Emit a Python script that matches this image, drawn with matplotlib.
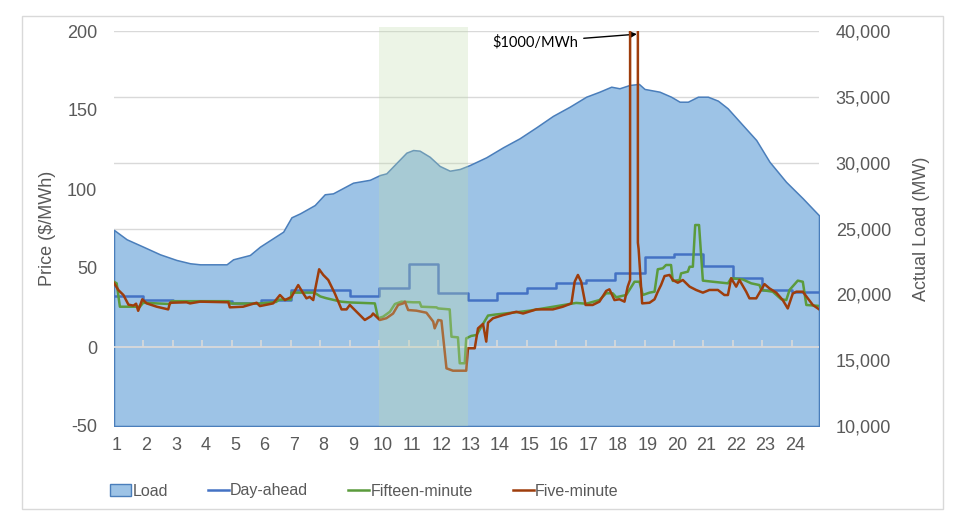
"""
Recreates a price / load chart: hourly day-ahead, fifteen-minute and five-minute
prices on the left axis and the actual load as a filled area on the right axis.
"""

import numpy as np
import matplotlib
matplotlib.use("Agg")
import matplotlib.pyplot as plt
from matplotlib.patches import Patch, Rectangle
from matplotlib.lines import Line2D
from matplotlib.ticker import FuncFormatter

plt.rcParams['font.family'] = ['Liberation Sans', 'DejaVu Sans']
plt.rcParams['axes.unicode_minus'] = False

# ---- data ----
hour_labels = list(range(1, 25))

# actual load (MW)
load_hours = [1.0, 1.43, 1.99, 2.56, 3.12, 3.58, 3.92, 4.82, 5.04, 5.61,
              5.95, 6.74, 7.02, 7.31, 7.81, 8.15, 8.43, 9.11, 9.68, 10.02,
              10.24, 10.92, 11.15, 11.37, 11.71, 12.05, 12.39, 12.73, 13.07, 13.63,
              14.2, 14.76, 15.33, 15.89, 16.46, 17.02, 17.47, 17.87, 18.15, 18.49,
              18.81, 19.0, 19.51, 19.9, 20.19, 20.47, 20.81, 21.15, 21.49, 21.82,
              22.33, 22.79, 23.24, 23.8, 24.37, 24.92]
load_mw = [24890, 24180, 23620, 23040, 22610, 22360, 22280, 22280, 22660, 22990,
           23620, 24760, 25850, 26150, 26780, 27600, 27670, 28480, 28700, 29060,
           29190, 30760, 30960, 30910, 30450, 29750, 29390, 29520, 29820, 30410,
           31170, 31850, 32690, 33550, 34250, 35010, 35390, 35770, 35650, 35900,
           35980, 35600, 35390, 35010, 34630, 34630, 35010, 35010, 34710, 34130,
           32860, 31720, 30070, 28550, 27290, 26000]

# day-ahead price, one value per hour ($/MWh)
day_ahead = [32.0, 30.0, 29.0, 29.0, 28.0, 29.7, 36.0, 36.0, 32.5, 37.5,
             52.5, 34.0, 29.7, 34.0, 37.1, 40.3, 42.4, 47.0, 57.2, 58.7,
             51.3, 43.9, 36.1, 34.8]

# fifteen-minute price
fifteen_hours = [1.0, 1.09, 1.2, 1.88, 1.99, 2.9, 2.95, 4.9, 4.95, 5.9,
                 6.5, 6.6, 7.0, 7.02, 7.8, 8.0, 8.2, 8.7, 9.0, 9.85,
                 9.96, 10.13, 10.36, 10.53, 10.75, 11.15, 11.37, 11.43, 11.94, 12.0,
                 12.39, 12.45, 12.67, 12.73, 12.9, 12.95, 13.12, 13.3, 13.52, 13.69,
                 13.92, 14.31, 14.65, 15.1, 15.55, 16.23, 16.68, 17.02, 17.47, 17.7,
                 17.92, 18.04, 18.38, 18.66, 18.83, 18.94, 19.17, 19.34, 19.45, 19.62,
                 19.73, 19.9, 19.96, 20.19, 20.24, 20.47, 20.53, 20.64, 20.72, 20.85,
                 20.98, 21.32, 21.83, 21.94, 22.33, 22.62, 22.9, 22.96, 23.35, 23.64,
                 23.81, 23.92, 24.2, 24.37, 24.49, 24.92]
fifteen_price = [41.3, 40.3, 25.5, 25.5, 28.0, 27.2, 29.0, 29.0, 27.5, 27.5,
                 28.5, 30.0, 30.0, 34.4, 34.4, 32.0, 30.9, 28.7, 28.2, 27.6,
                 18.2, 19.2, 22.3, 27.2, 28.7, 28.3, 28.3, 25.5, 25.1, 24.4,
                 23.8, 6.5, 6.1, -10.3, -10.3, 5.5, 7.0, 7.6, 14.6, 19.9,
                 20.5, 21.3, 22.0, 23.0, 24.4, 26.5, 27.9, 27.4, 29.7, 34.0,
                 34.0, 31.5, 32.9, 41.3, 41.3, 32.9, 34.4, 35.0, 49.2, 49.8,
                 51.9, 51.9, 41.8, 42.4, 46.6, 47.7, 50.8, 50.8, 77.2, 77.2,
                 42.0, 41.3, 40.3, 43.5, 42.8, 40.3, 39.2, 36.1, 35.0, 30.2,
                 29.7, 36.1, 42.0, 41.3, 26.6, 26.0]

# five-minute price (the spike near hour 18.6 reaches $1000/MWh)
five_hours = [1.0, 1.15, 1.32, 1.49, 1.66, 1.75, 1.82, 1.96, 2.11, 2.45,
              2.84, 2.9, 3.46, 3.58, 3.92, 4.88, 4.93, 5.38, 5.84, 5.95,
              6.4, 6.63, 6.8, 7.02, 7.25, 7.42, 7.53, 7.64, 7.76, 7.81,
              7.96, 8.1, 8.27, 8.49, 8.72, 8.89, 9.0, 9.23, 9.51, 9.73,
              9.79, 10.02, 10.24, 10.47, 10.64, 10.81, 10.87, 10.98, 11.26, 11.6,
              11.83, 11.88, 12.0, 12.11, 12.28, 12.5, 12.95, 13.01, 13.24, 13.35,
              13.52, 13.63, 13.69, 13.86, 14.2, 14.65, 14.88, 15.33, 15.89, 16.23,
              16.52, 16.63, 16.74, 16.85, 17.0, 17.24, 17.47, 17.7, 17.81, 17.98,
              18.15, 18.32, 18.43, 18.51, 18.515, 18.77, 18.775, 18.8, 18.92, 19.17,
              19.34, 19.45, 19.56, 19.68, 19.85, 19.96, 20.13, 20.3, 20.53, 20.75,
              20.98, 21.2, 21.49, 21.71, 21.83, 21.94, 22.11, 22.22, 22.45, 22.56,
              22.79, 23.07, 23.24, 23.47, 23.69, 23.86, 24.03, 24.15, 24.37, 24.54,
              24.71, 24.92]
five_price = [40.5, 36.0, 32.9, 26.8, 26.2, 27.4, 22.9, 30.2, 27.6, 25.5,
              23.8, 28.0, 28.3, 27.6, 28.7, 28.3, 25.1, 25.5, 28.0, 25.9,
              27.6, 32.9, 29.7, 31.7, 39.2, 34.0, 30.8, 31.7, 29.7, 35.0,
              49.2, 45.6, 42.4, 34.0, 23.8, 23.8, 26.6, 22.3, 17.1, 19.6,
              21.2, 17.1, 18.2, 21.2, 26.6, 27.6, 28.7, 23.4, 23.0, 21.7,
              16.1, 11.8, 17.1, 16.7, -13.5, -15.0, -15.0, -0.8, -0.8, 11.8,
              14.6, 3.4, 15.4, 18.2, 20.2, 22.3, 21.2, 23.8, 23.8, 25.5,
              27.6, 41.3, 45.6, 41.3, 26.6, 26.6, 28.7, 35.5, 36.5, 29.7,
              30.2, 28.7, 38.2, 42.5, 1000.0, 1000.0, 66.0, 62.0, 27.6, 28.0,
              30.2, 35.0, 39.2, 44.9, 45.6, 42.4, 40.7, 42.4, 38.2, 36.1,
              34.4, 36.1, 36.1, 32.9, 32.9, 43.5, 38.2, 42.4, 35.0, 30.8,
              30.8, 39.8, 37.1, 34.4, 29.7, 24.4, 33.8, 35.0, 35.0, 30.8,
              26.6, 23.9]

# highlighted period (hours)
shade_start, shade_end = 10, 13

# ---- styles ----
GRAY_TEXT = '#595959'
GRID = '#d9d9d9'
LOAD_FILL = '#9dc3e6'
LOAD_EDGE = '#4a7ebb'
DA_COLOR = '#4472c4'
FIFTEEN_COLOR = '#5b9b3c'
FIVE_COLOR = '#9e3d0c'
X_END = 24.92


def main():
    fig = plt.figure(figsize=(9.75, 5.31), dpi=100)
    ax = fig.add_axes([114 / 975, 1 - 426 / 531, (819 - 114) / 975, (426 - 31) / 531])
    ax2 = ax.twinx()

    # prices drawn above the load area
    ax.set_zorder(2)
    ax2.set_zorder(1)
    ax.patch.set_visible(False)

    # load area + gridlines on the secondary axis
    ax2.set_ylim(10000, 40000)
    ax2.set_yticks(np.arange(10000, 40001, 5000))
    ax2.yaxis.set_major_formatter(FuncFormatter(lambda v, p: f'{int(v):,}'))
    ax2.set_axisbelow(True)
    ax2.grid(axis='y', color=GRID, lw=1)
    ax2.fill_between(load_hours, load_mw, 10000, facecolor=LOAD_FILL,
                     edgecolor=LOAD_EDGE, lw=1.1)
    ax2.tick_params(axis='y', length=0, pad=12, labelsize=13, labelcolor=GRAY_TEXT)
    ax2.set_ylabel('Actual Load (MW)', fontsize=13, color=GRAY_TEXT, labelpad=16)

    # price lines
    ax.set_ylim(-50, 200)
    ax.set_yticks(np.arange(-50, 201, 50))
    ax.set_xlim(1, X_END)
    ax.axhline(0, color=GRID, lw=1.3, zorder=1.5)
    ax.vlines(hour_labels[1:], 0, 4.5, color=GRID, lw=1.2, zorder=1.5)

    da_x = np.append(hour_labels, X_END)
    da_y = np.append(day_ahead, day_ahead[-1])
    ax.plot(da_x, da_y, drawstyle='steps-post', color=DA_COLOR, lw=1.8, zorder=3)
    ax.plot(fifteen_hours, fifteen_price, color=FIFTEEN_COLOR, lw=1.8, zorder=3)
    ax.plot(five_hours, five_price, color=FIVE_COLOR, lw=1.8, zorder=4)

    # highlighted window (tints everything under it)
    ax.axvspan(shade_start, shade_end, ymax=1.01, color='#c1dbad', alpha=0.3, lw=0,
               zorder=6, clip_on=False)

    ax.annotate(r'\$1000/MWh', xy=(18.74, 198), xytext=(16.75, 193),
                ha='right', va='center', fontsize=10.5, family=['Lato', 'DejaVu Sans'],
                color='black',
                arrowprops=dict(arrowstyle='-|>', color='black', lw=1,
                                mutation_scale=10, shrinkA=2, shrinkB=0))

    ax.set_xticks([h + 0.1 for h in hour_labels])
    ax.set_xticklabels([str(h) for h in hour_labels])
    ax.tick_params(axis='x', length=0, pad=8, labelsize=13, labelcolor=GRAY_TEXT)
    ax.tick_params(axis='y', length=0, pad=12, labelsize=13, labelcolor=GRAY_TEXT)
    ax.set_ylabel('Price ($/MWh)', fontsize=13, color=GRAY_TEXT, labelpad=8)

    for a in (ax, ax2):
        for s in a.spines.values():
            s.set_visible(False)

    # legend under the plot
    handles = [Patch(facecolor=LOAD_FILL, edgecolor=LOAD_EDGE, lw=1),
               Line2D([], [], color=DA_COLOR, lw=1.8),
               Line2D([], [], color=FIFTEEN_COLOR, lw=1.8),
               Line2D([], [], color=FIVE_COLOR, lw=1.8)]
    labels = ['Load', 'Day-ahead', 'Fifteen-minute', 'Five-minute']
    fig.legend(handles, labels, loc='center left', bbox_to_anchor=(110 / 975, 1 - 491 / 531),
               ncol=4, frameon=False, fontsize=11.5, labelcolor=GRAY_TEXT,
               handlelength=1.3, handletextpad=0.1, columnspacing=2.5,
               borderpad=0, borderaxespad=0)

    # light chart border
    fig.patches.append(Rectangle((22 / 975, 1 - 509 / 531), (943 - 22) / 975, (509 - 16) / 531,
                                 transform=fig.transFigure, fill=False,
                                 edgecolor=GRID, lw=1))

    fig.savefig('out.png', dpi=100, facecolor='white')


if __name__ == '__main__':
    main()
